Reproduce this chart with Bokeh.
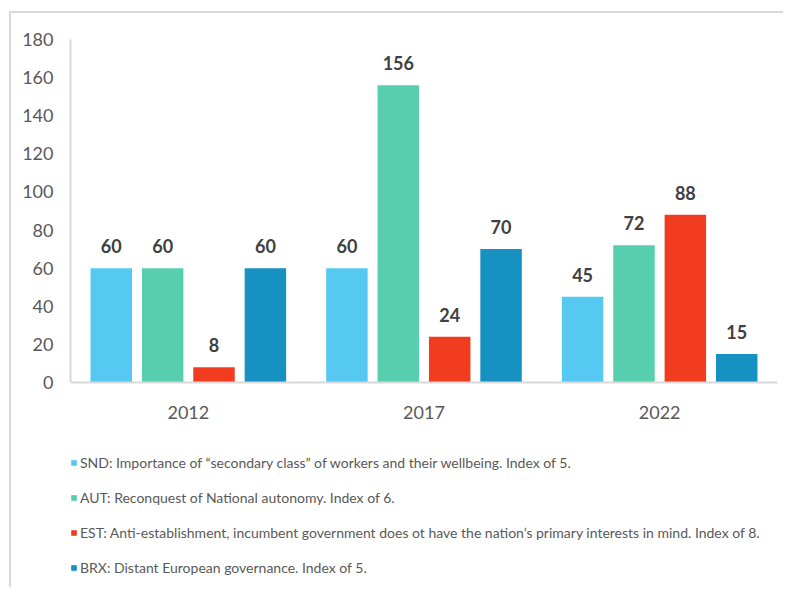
from bokeh.plotting import figure
from bokeh.models import ColumnDataSource, FactorRange, Range1d, FixedTicker, Legend, LegendItem
from bokeh.transform import dodge
from bokeh.core.properties import value
from bokeh.embed import file_html
from bokeh.resources import INLINE

years = ["2012", "2017", "2022"]
snd = [60, 60, 45]
aut = [60, 156, 72]
est = [8, 24, 88]
brx = [60, 70, 15]
series_keys = ["snd", "aut", "est", "brx"]
series_labels = [
    "SND: Importance of \u201csecondary class\u201d of workers and their wellbeing. Index of 5.",
    "AUT: Reconquest of National autonomy. Index of 6.",
    "EST: Anti-establishment, incumbent government does ot have the nation\u2019s primary interests in mind. Index of 8.",
    "BRX: Distant European governance. Index of 5.",
]
colors = ["#55c9f2", "#57cfae", "#f23c1f", "#1790c2"]
offsets = [-0.327, -0.109, 0.109, 0.327]

src = ColumnDataSource(data=dict(
    year=years, snd=snd, aut=aut, est=est, brx=brx,
    snd_t=[str(v) for v in snd], aut_t=[str(v) for v in aut],
    est_t=[str(v) for v in est], brx_t=[str(v) for v in brx],
))

# frame: page y 39 (value 180) .. page y 587; value 0 at page y 382
px_per_unit = (382 - 39) / 180.0
y_start = 180 - (587 - 39) / px_per_unit

p = figure(
    width=774, height=576,
    x_range=FactorRange(*years, range_padding=0),
    y_range=Range1d(y_start, 180),
    output_backend="svg", toolbar_location=None,
    min_border_left=59, min_border_top=26, min_border_right=8, min_border_bottom=2,
)
p.styles = {"margin-left": "9px", "margin-top": "11px",
            "border-left": "2px solid #d9d9d9", "border-top": "2px solid #d9d9d9"}
p.outline_line_color = None
p.xgrid.grid_line_color = None
p.ygrid.grid_line_color = None
p.background_fill_color = "white"

items = []
for key, lab, col, off in zip(series_keys, series_labels, colors, offsets):
    r = p.vbar(x=dodge("year", off, range=p.x_range), top=key, bottom=0, width=0.176,
               source=src, fill_color=col, line_color=None)
    p.text(x=dodge("year", off, range=p.x_range), y=key, text=key + "_t", source=src,
           text_align="center", text_baseline="alphabetic", y_offset=-22,
           text_font=value("Lato"), text_font_style="bold", text_font_size="18px",
           text_color="#404040")
    items.append(LegendItem(label=lab, renderers=[r]))

legend = Legend(items=items, location=(0, 10), orientation="vertical",
                glyph_width=7, glyph_height=7, label_standoff=3,
                label_height=20, spacing=15, padding=0, margin=0,
                border_line_color=None, background_fill_alpha=0,
                label_text_font="Lato", label_text_font_size="14px",
                label_text_color="#595959")
p.add_layout(legend, "center")

p.xaxis.fixed_location = 0
p.yaxis.bounds = (0, 180)
p.yaxis.ticker = FixedTicker(ticks=list(range(0, 181, 20)))
for ax in (p.xaxis, p.yaxis):
    ax.axis_line_color = "#d9d9d9"
    ax.axis_line_width = 2
    ax.major_tick_line_color = None
    ax.minor_tick_line_color = None
    ax.major_label_text_font = "Lato"
    ax.major_label_text_font_size = "18px"
    ax.major_label_text_color = "#595959"
p.yaxis.major_label_standoff = 11
p.xaxis.major_label_standoff = 17

open("out.html", "w").write(file_html(p, INLINE))
